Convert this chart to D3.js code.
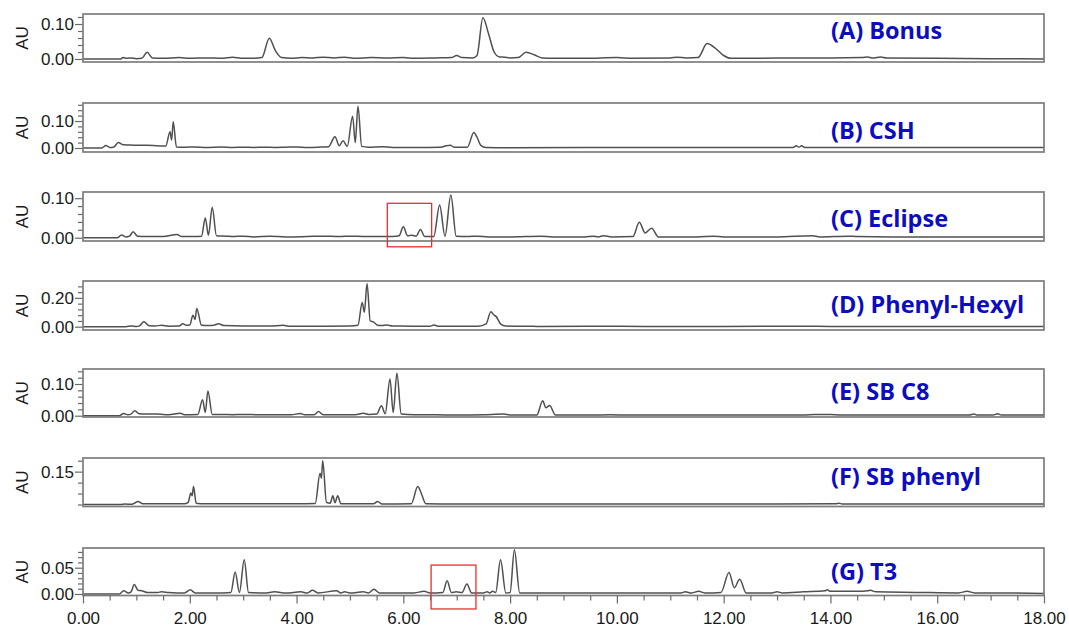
<!DOCTYPE html>
<html>
<head>
<meta charset="utf-8">
<script src="https://cdn.jsdelivr.net/npm/d3@7"></script>
<style>
  body { margin: 0; background: #fff; }
  svg { display: block; }
  .tick text { font-family: "Liberation Sans", Arial, sans-serif; font-size: 17px; fill: #1a1a1a; }
  .tick line { stroke: #6a6a6a; stroke-width: 1.2; }
</style>
</head>
<body>
<svg id="chart" width="1069" height="630"></svg>
<script>
// chromatogram traces, [time (min), AU]
const bonus = [[0,0],[0.7,0],[0.75,0.004],[0.82,0.002],[0.9,0.003],[1.0,0.001],[1.1,0.002],[1.2,0.019],[1.3,0.003],[1.5,0.002],[1.8,0.004],[2.0,0.002],[2.3,0.003],[2.6,0.002],[2.8,0.005],[3.0,0.002],[3.2,0.002],[3.35,0.004],[3.49,0.059],[3.6,0.025],[3.72,0.004],[3.9,0.002],[4.1,0.004],[4.3,0.003],[4.5,0.005],[4.7,0.003],[4.9,0.005],[5.1,0.002],[5.4,0.004],[5.7,0.003],[6.0,0.004],[6.2,0.002],[6.6,0.003],[6.9,0.004],[7.0,0.01],[7.1,0.004],[7.3,0.003],[7.38,0.01],[7.49,0.118],[7.6,0.07],[7.7,0.02],[7.8,0.006],[7.9,0.005],[8.0,0.003],[8.15,0.004],[8.3,0.019],[8.45,0.012],[8.6,0.003],[8.8,0.002],[9.4,0.002],[10.0,0.004],[10.3,0.002],[11.0,0.003],[11.13,0.005],[11.3,0.003],[11.52,0.004],[11.69,0.044],[11.85,0.03],[12.0,0.01],[12.13,0.002],[12.5,0.002],[13.5,0.003],[14.0,0.003],[14.6,0.004],[14.69,0.006],[14.8,0.003],[14.94,0.006],[15.05,0.003],[16.0,0.002],[17.0,0.001],[18,0]];
const csh = [[0,0],[0.35,0],[0.43,0.009],[0.5,0.002],[0.58,0.004],[0.66,0.02],[0.75,0.012],[0.9,0.011],[1.0,0.01],[1.2,0.01],[1.4,0.008],[1.55,0.007],[1.63,0.06],[1.66,0.03],[1.69,0.097],[1.75,0.004],[1.9,0.003],[2.1,0.004],[2.3,0.002],[2.6,0.004],[2.8,0.002],[3.0,0.003],[3.2,0.002],[3.4,0.003],[3.6,0.002],[3.8,0.003],[4.0,0.004],[4.2,0.002],[4.4,0.003],[4.6,0.005],[4.72,0.042],[4.8,0.008],[4.87,0.027],[4.95,0.006],[5.05,0.118],[5.1,0.02],[5.15,0.155],[5.22,0.006],[5.35,0.003],[5.6,0.005],[5.8,0.002],[6.2,0.002],[6.7,0.003],[6.8,0.008],[6.88,0.01],[6.95,0.003],[7.2,0.003],[7.32,0.057],[7.38,0.04],[7.45,0.01],[7.55,0.002],[8.0,0.001],[10.0,0.002],[12.0,0.002],[13.3,0.002],[13.36,0.008],[13.41,0.003],[13.46,0.008],[13.52,0.002],[15.0,0.002],[18,0.002]];
const eclipse = [[0,0],[0.65,0],[0.72,0.007],[0.8,0.002],[0.87,0.004],[0.94,0.015],[1.02,0.004],[1.2,0.003],[1.5,0.003],[1.76,0.008],[1.85,0.003],[2.1,0.003],[2.22,0.004],[2.29,0.05],[2.35,0.006],[2.42,0.077],[2.5,0.005],[2.7,0.004],[2.8,0.003],[3.0,0.004],[3.2,0.002],[3.5,0.004],[3.8,0.002],[4.2,0.003],[4.5,0.004],[4.8,0.003],[5.0,0.004],[5.3,0.003],[5.6,0.003],[5.8,0.003],[5.92,0.005],[6.0,0.028],[6.08,0.005],[6.16,0.006],[6.24,0.004],[6.32,0.021],[6.4,0.003],[6.57,0.003],[6.68,0.083],[6.78,0.004],[6.89,0.108],[6.99,0.004],[7.2,0.003],[7.38,0.004],[7.6,0.002],[8.0,0.002],[8.57,0.004],[8.8,0.002],[9.4,0.002],[9.56,0.004],[9.65,0.002],[9.75,0.005],[9.9,0.002],[10.3,0.003],[10.42,0.039],[10.53,0.012],[10.65,0.024],[10.78,0.002],[11.5,0.002],[11.81,0.004],[12.0,0.002],[13.0,0.002],[13.66,0.005],[13.8,0.002],[14.34,0.004],[14.5,0.003],[15.5,0.002],[18,0.002]];
const phenylHexyl = [[0,0],[0.8,0],[0.91,0.005],[1.0,0.002],[1.05,0.004],[1.14,0.034],[1.24,0.006],[1.35,0.005],[1.47,0.01],[1.6,0.004],[1.8,0.005],[1.87,0.02],[1.94,0.01],[2.0,0.012],[2.06,0.08],[2.1,0.05],[2.13,0.127],[2.22,0.01],[2.35,0.008],[2.45,0.01],[2.54,0.02],[2.64,0.008],[3.0,0.005],[3.5,0.005],[3.75,0.01],[3.85,0.004],[4.5,0.004],[5.0,0.005],[5.15,0.01],[5.23,0.168],[5.27,0.1],[5.32,0.3],[5.38,0.04],[5.44,0.034],[5.52,0.01],[5.6,0.008],[5.69,0.012],[5.8,0.005],[6.2,0.004],[6.5,0.004],[6.57,0.012],[6.65,0.004],[7.4,0.004],[7.55,0.02],[7.64,0.103],[7.7,0.08],[7.74,0.07],[7.82,0.02],[7.92,0.005],[8.2,0.003],[8.37,0.004],[8.5,0.002],[9.65,0.003],[10.5,0.002],[12.0,0.002],[13.5,0.003],[14.0,0.002],[18,0.002]];
const sbC8 = [[0,0],[0.68,0],[0.76,0.007],[0.84,0.003],[0.9,0.005],[0.97,0.016],[1.05,0.006],[1.2,0.005],[1.4,0.005],[1.6,0.003],[1.82,0.008],[1.9,0.003],[2.15,0.004],[2.24,0.05],[2.29,0.01],[2.34,0.078],[2.42,0.004],[2.6,0.004],[2.8,0.003],[3.0,0.004],[3.3,0.003],[3.6,0.003],[3.9,0.003],[4.07,0.007],[4.15,0.003],[4.33,0.003],[4.41,0.013],[4.5,0.003],[4.8,0.003],[5.1,0.003],[5.25,0.008],[5.35,0.004],[5.5,0.005],[5.59,0.031],[5.66,0.006],[5.75,0.116],[5.81,0.01],[5.88,0.134],[5.96,0.005],[6.2,0.003],[6.6,0.003],[7.0,0.002],[7.5,0.003],[7.88,0.005],[8.0,0.002],[8.5,0.002],[8.61,0.047],[8.67,0.025],[8.74,0.032],[8.85,0.002],[9.5,0.002],[9.88,0.003],[10.2,0.002],[12.0,0.002],[13.5,0.002],[13.7,0.004],[14.0,0.004],[14.2,0.002],[16.6,0.002],[16.69,0.005],[16.75,0.002],[17.05,0.002],[17.13,0.006],[17.2,0.002],[18,0.002]];
const sbPhenyl = [[0,0],[0.7,0],[0.79,0.002],[0.9,0.001],[0.95,0.004],[1.03,0.014],[1.12,0.004],[1.5,0.003],[1.9,0.003],[1.97,0.01],[2.02,0.052],[2.045,0.04],[2.07,0.082],[2.12,0.006],[2.2,0.004],[2.6,0.003],[3.0,0.003],[3.5,0.003],[4.0,0.003],[4.35,0.005],[4.44,0.143],[4.465,0.12],[4.49,0.2],[4.56,0.01],[4.63,0.006],[4.68,0.04],[4.72,0.008],[4.77,0.04],[4.83,0.004],[5.0,0.003],[5.44,0.003],[5.52,0.014],[5.6,0.002],[6.15,0.004],[6.27,0.082],[6.33,0.055],[6.42,0.004],[7.0,0.002],[7.78,0.002],[10.0,0.002],[13.0,0.002],[14.1,0.003],[14.16,0.006],[14.22,0.002],[18,0.002]];
const t3 = [[0,0],[0.68,0],[0.76,0.006],[0.85,0.002],[0.9,0.004],[0.96,0.018],[1.03,0.007],[1.1,0.006],[1.2,0.003],[1.4,0.003],[1.47,0.004],[1.6,0.003],[1.9,0.002],[2.01,0.008],[2.1,0.002],[2.5,0.002],[2.77,0.003],[2.85,0.042],[2.93,0.003],[3.02,0.065],[3.1,0.003],[3.4,0.002],[3.59,0.004],[3.8,0.002],[4.08,0.004],[4.2,0.002],[4.3,0.007],[4.4,0.002],[4.75,0.006],[4.83,0.002],[4.9,0.004],[5.0,0.002],[5.25,0.004],[5.35,0.002],[5.45,0.009],[5.55,0.002],[6.2,0.002],[6.39,0.005],[6.5,0.002],[6.74,0.003],[6.82,0.025],[6.9,0.003],[6.99,0.004],[7.1,0.003],[7.19,0.019],[7.28,0.002],[7.5,0.002],[7.57,0.004],[7.62,0.002],[7.67,0.005],[7.73,0.003],[7.82,0.065],[7.92,0.002],[8.0,0.003],[8.08,0.084],[8.18,0.002],[8.5,0.002],[11.2,0.002],[11.28,0.004],[11.4,0.002],[11.53,0.005],[11.65,0.002],[11.95,0.003],[12.1,0.041],[12.2,0.012],[12.3,0.028],[12.42,0.002],[12.9,0.002],[13.0,0.004],[13.1,0.002],[13.5,0.004],[13.9,0.006],[13.94,0.008],[14.0,0.005],[14.5,0.005],[14.7,0.006],[14.75,0.007],[14.85,0.004],[15.6,0.003],[16.4,0.002],[16.56,0.005],[16.7,0.002],[17.0,0.002],[18,0.001]];

const titles = ['(A) Bonus', '(B) CSH', '(C) Eclipse', '(D) Phenyl-Hexyl', '(E) SB C8', '(F) SB phenyl', '(G) T3'];
const yLabelTicks = [[0, 0.10], [0, 0.10], [0, 0.10], [0, 0.20], [0, 0.10], [0.15], [0, 0.05]];
const yMinorTicks = [
    [0.02, 0.04, 0.06, 0.08, 0.12],
    [0.02, 0.04, 0.06, 0.08, 0.12, 0.14, 0.16],
    [0.02, 0.04, 0.06, 0.08],
    [0.04, 0.08, 0.12, 0.16, 0.24, 0.28],
    [0.02, 0.04, 0.06, 0.08, 0.12, 0.14],
    [0.00, 0.05, 0.10, 0.20],
    [0.01, 0.02, 0.03, 0.04, 0.06, 0.07, 0.08]
];
const xLabelTicks = [0, 2, 4, 6, 8, 10, 12, 14, 16, 18];
const xMinorTicks = [1, 3, 5, 7, 9, 11, 13, 15, 17, 0.5, 1.5, 2.5, 3.5, 4.5, 5.5, 6.5, 7.5, 8.5, 9.5, 10.5, 11.5, 12.5, 13.5, 14.5, 15.5, 16.5, 17.5];
// highlighted regions: [panel, t0, t1, au0, au1]
const boxes = [[2, 5.70, 6.53, -0.023, 0.087], [6, 6.52, 7.36, -0.0285, 0.055]];

const traces = [bonus, csh, eclipse, phenylHexyl, sbC8, sbPhenyl, t3];

// layout of the panels on the page
const frames = [
    {top: 14, bottom: 62, dom: [-0.0086, 0.1286], base: 39},
    {top: 103, bottom: 152, dom: [-0.0148, 0.1667], base: 139},
    {top: 192, bottom: 241, dom: [-0.0083, 0.1156], base: 226.5},
    {top: 281, bottom: 330, dom: [-0.0228, 0.3172], base: 313},
    {top: 369, bottom: 417, dom: [-0.0041, 0.1473], base: 400},
    {top: 458, bottom: 506.5, dom: [-0.0091, 0.2123], base: 485},
    {top: 548, bottom: 595.5, dom: [-0.0029, 0.0875], base: 580}
];

const svg = d3.select('#chart');
const x = d3.scaleLinear().domain([0, 18]).range([83, 1044]);

frames.forEach(function(f, i) {
    const y = d3.scaleLinear().domain(f.dom).range([f.bottom, f.top]);
    const g = svg.append('g');

    g.append('g')
        .attr('transform', 'translate(83,0)')
        .call(d3.axisLeft(y).tickValues(yMinorTicks[i]).tickSize(5).tickFormat(''))
        .call(a => a.select('.domain').remove());

    g.append('g')
        .attr('transform', 'translate(83,0)')
        .call(d3.axisLeft(y).tickValues(yLabelTicks[i]).tickSize(8).tickPadding(1).tickFormat(d3.format('.2f')))
        .call(a => a.select('.domain').remove());

    const line = d3.line()
        .x(d => x(d[0]))
        .y(d => y(d[1]))
        .curve(d3.curveMonotoneX);

    g.append('path')
        .datum(traces[i])
        .attr('d', line)
        .attr('fill', 'none')
        .attr('stroke', '#505050')
        .attr('stroke-width', 1.5)
        .attr('stroke-linejoin', 'round');

    g.append('rect')
        .attr('x', 83)
        .attr('y', f.top)
        .attr('width', 1044 - 83)
        .attr('height', f.bottom - f.top)
        .attr('fill', 'none')
        .attr('stroke', '#7d7d7d')
        .attr('stroke-width', 1.7);

    g.append('text')
        .attr('transform', 'translate(28,' + ((f.top + f.bottom) / 2) + ') rotate(-90)')
        .attr('text-anchor', 'middle')
        .style('font-family', '"Liberation Sans", Arial, sans-serif')
        .style('font-size', '17px')
        .style('fill', '#1a1a1a')
        .text('AU');

    g.append('text')
        .attr('x', 831)
        .attr('y', f.base)
        .style('font-family', '"Open Sans", sans-serif')
        .style('font-weight', 700)
        .style('font-size', '23.5px')
        .style('fill', '#0c0cc0')
        .text(titles[i]);

    boxes.filter(b => b[0] === i).forEach(function(b) {
        g.append('rect')
            .attr('x', x(b[1]))
            .attr('y', y(b[4]))
            .attr('width', x(b[2]) - x(b[1]))
            .attr('height', y(b[3]) - y(b[4]))
            .attr('fill', 'none')
            .attr('stroke', '#e8302c')
            .attr('stroke-width', 1.3);
    });
});

const bottom = frames[frames.length - 1].bottom;

svg.append('g')
    .attr('transform', 'translate(0,' + bottom + ')')
    .call(d3.axisBottom(x).tickValues(xMinorTicks).tickSize(5).tickFormat(''))
    .call(a => a.select('.domain').remove());

svg.append('g')
    .attr('transform', 'translate(0,' + bottom + ')')
    .call(d3.axisBottom(x).tickValues(xLabelTicks).tickSize(8).tickPadding(8).tickFormat(d3.format('.2f')))
    .call(a => a.select('.domain').remove());
</script>
</body>
</html>
